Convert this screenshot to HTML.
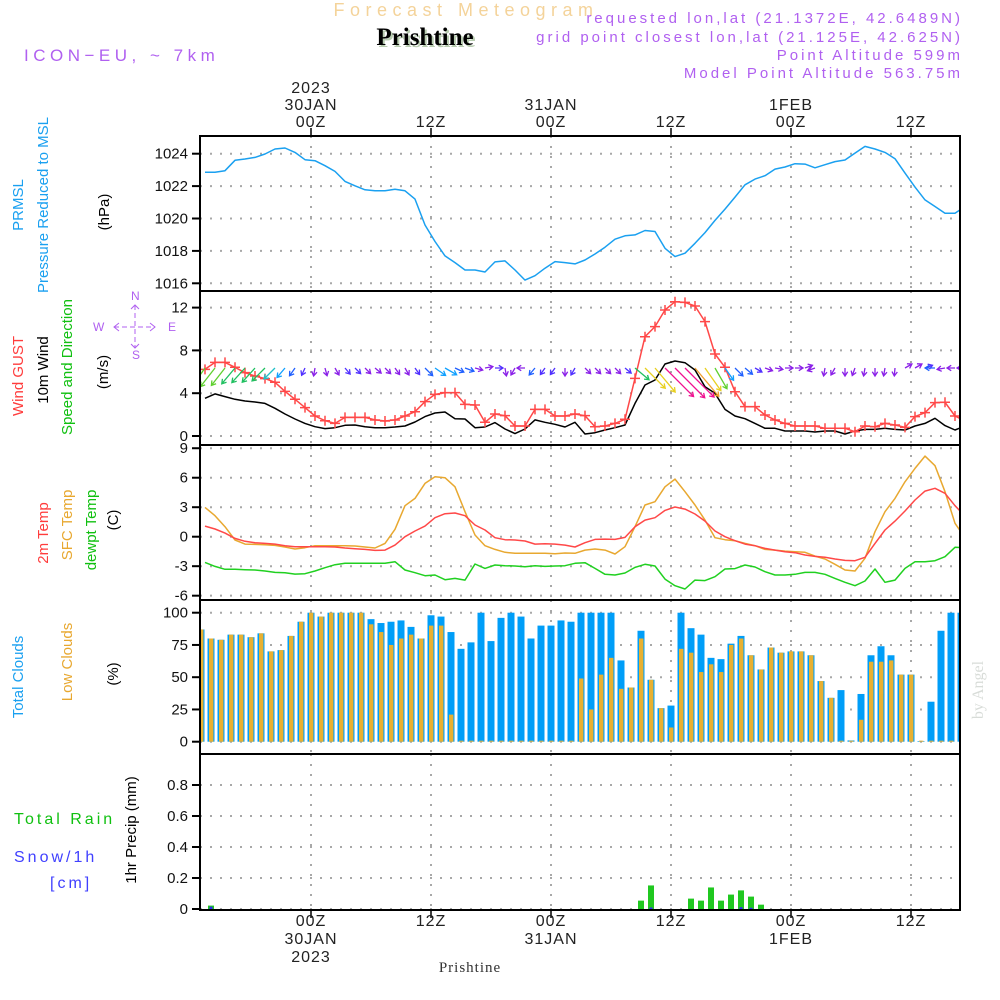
<!DOCTYPE html>
<html><head><meta charset="utf-8">
<style>
html,body{margin:0;padding:0;background:#fff;}
svg{display:block;font-family:"Liberation Sans",sans-serif;}
.nar{font-family:"Liberation Sans Narrow","Liberation Sans",sans-serif;}
.tk{font-size:15px;fill:#111;text-anchor:end;}
.tl{font-size:16px;fill:#222;text-anchor:middle;letter-spacing:1px;}
.pur{fill:#b060f0;font-size:15px;letter-spacing:3px;}
</style></head>
<body>
<svg id="chart" width="1000" height="1000" viewBox="0 0 1000 1000">
<defs><clipPath id="plotclip"><rect x="200" y="135" width="760" height="776"/></clipPath></defs>
<rect x="0" y="0" width="1000" height="1000" fill="#fff"/>
<text x="466" y="16" text-anchor="middle" font-size="18" fill="#f4d39a" letter-spacing="5.5">Forecast Meteogram</text>
<text x="427" y="47" text-anchor="middle" font-size="25" font-weight="bold" font-family="Liberation Serif, serif" fill="#b8ccb0">Prishtine</text>
<text x="425" y="45" text-anchor="middle" font-size="25" font-weight="bold" font-family="Liberation Serif, serif" fill="#000">Prishtine</text>
<text x="24" y="61" class="pur" font-size="17" style="font-size:17px;letter-spacing:4.5px">ICON−EU, ~ 7km</text>
<text x="963" y="23" text-anchor="end" class="pur">requested lon,lat (21.1372E, 42.6489N)</text>
<text x="963" y="42" text-anchor="end" class="pur">grid point closest lon,lat (21.125E, 42.625N)</text>
<text x="963" y="60" text-anchor="end" class="pur">Point Altitude 599m</text>
<text x="963" y="78" text-anchor="end" class="pur">Model Point Altitude 563.75m</text>

<g class="nar" font-size="15">
<text transform="translate(23,205) rotate(-90)" text-anchor="middle" fill="#1aa0f0">PRMSL</text>
<text transform="translate(48,205) rotate(-90)" text-anchor="middle" fill="#1aa0f0">Pressure Reduced to MSL</text>
<text transform="translate(109,212) rotate(-90)" text-anchor="middle" fill="#000">(hPa)</text>
<text transform="translate(23,376) rotate(-90)" text-anchor="middle" fill="#ff3c3c">Wind GUST</text>
<text transform="translate(48,370) rotate(-90)" text-anchor="middle" fill="#000">10m Wind</text>
<text transform="translate(72,367) rotate(-90)" text-anchor="middle" fill="#10c010">Speed and Direction</text>
<text transform="translate(108,372) rotate(-90)" text-anchor="middle" fill="#000">(m/s)</text>
<text transform="translate(48,533) rotate(-90)" text-anchor="middle" fill="#ff3c3c">2m Temp</text>
<text transform="translate(72,525) rotate(-90)" text-anchor="middle" fill="#e8a830">SFC Temp</text>
<text transform="translate(96,530) rotate(-90)" text-anchor="middle" fill="#10c010">dewpt Temp</text>
<text transform="translate(118,520) rotate(-90)" text-anchor="middle" fill="#000">(C)</text>
<text transform="translate(23,677) rotate(-90)" text-anchor="middle" fill="#1aa0f0">Total Clouds</text>
<text transform="translate(72,662) rotate(-90)" text-anchor="middle" fill="#e8a830">Low Clouds</text>
<text transform="translate(118,674) rotate(-90)" text-anchor="middle" fill="#000">(%)</text>
<text transform="translate(136,830) rotate(-90)" text-anchor="middle" fill="#000">1hr Precip (mm)</text>
</g>
<text x="14" y="824" font-size="16" fill="#10c010" letter-spacing="3">Total  Rain</text>
<text x="14" y="862" font-size="16" fill="#4040ff" letter-spacing="3">Snow/1h</text>
<text x="50" y="888" font-size="16" fill="#4040ff" letter-spacing="3">[cm]</text>
<text transform="translate(983,690) rotate(-90)" text-anchor="middle" font-family="Liberation Serif, serif" font-size="16" fill="#d8dcd8">by Angel</text>
<text x="470" y="972" text-anchor="middle" font-family="Liberation Serif, serif" font-size="15" fill="#333" letter-spacing="1">Prishtine</text>

<g fill="#b060f0" stroke="#b060f0" font-size="12">
<text x="131" y="300" stroke="none">N</text><text x="93" y="331" stroke="none">W</text>
<text x="168" y="331" stroke="none">E</text><text x="132" y="359" stroke="none">S</text>
<line x1="114" y1="327" x2="155" y2="327" stroke-width="1" stroke-dasharray="5,3"/>
<line x1="135" y1="305" x2="135" y2="348" stroke-width="1" stroke-dasharray="5,3"/>
<path d="M119,323 L114,327 L119,331 M150,323 L155,327 L150,331 M131,309 L135,305 L139,309 M131,344 L135,348 L139,344" fill="none" stroke-width="1"/>
</g>
<g id="axes"></g>
<g id="marks" clip-path="url(#plotclip)"></g>
<g id="frames"></g>
</svg>
<script>
// ---------- DATA ----------
const lineStartHour = -10.6;
const pressure = [1022.85,1022.85,1022.95,1023.59,1023.67,1023.77,1023.98,1024.29,1024.35,1024.08,1023.63,1023.57,1023.26,1022.91,1022.29,1022.02,1021.77,1021.71,1021.71,1021.81,1021.71,1021.2,1019.6,1018.58,1017.69,1017.28,1016.82,1016.82,1016.7,1017.32,1017.38,1016.82,1016.2,1016.47,1016.93,1017.34,1017.28,1017.2,1017.44,
1017.81,1018.23,1018.72,1018.93,1018.99,1019.26,1019.2,1018.16,1017.65,1017.86,1018.47,1019.13,1019.88,1020.58,1021.32,1022.08,1022.43,1022.64,1023.05,1023.18,1023.38,1023.36,1023.13,1023.32,1023.51,1023.61,1024.04,1024.45,1024.29,1024.08,1023.69,1022.8,1021.94,1021.15,1020.74,1020.33,1020.33,1020.74];
const wind10m = [3.52,3.93,3.68,3.43,3.27,3.18,3.05,2.59,2.06,1.59,1.18,0.87,0.69,0.78,1.0,1.03,0.87,0.78,0.78,0.84,0.93,1.31,1.81,2.15,2.24,1.62,1.59,0.78,0.84,1.25,0.65,0.22,0.65,1.5,1.28,1.09,0.84,1.28,0.19,
0.31,0.56,0.78,1.03,3.05,4.77,5.23,6.73,7.01,6.85,6.17,4.61,3.99,2.49,1.87,1.62,1.18,0.72,0.72,0.47,0.47,0.47,0.37,0.47,0.47,0.19,0.47,0.62,0.62,0.72,0.62,0.56,0.93,1.18,1.65,0.97,0.56,0.93];
const windGust = [6.23,6.88,6.88,6.42,5.92,5.61,5.36,5.02,4.17,3.43,2.65,1.87,1.43,1.18,1.74,1.74,1.74,1.5,1.4,1.5,1.87,2.27,3.21,3.89,4.05,4.05,2.96,2.9,1.28,2.06,1.9,0.93,0.93,2.49,2.49,1.87,1.87,2.06,1.9,
0.87,0.93,1.18,1.56,5.39,9.28,10.22,11.78,12.55,12.49,12.15,10.69,7.66,6.42,4.14,2.74,2.74,1.96,1.5,1.18,0.93,0.93,0.93,0.72,0.72,0.72,0.4,0.93,0.87,1.18,1.03,0.81,1.81,2.18,3.12,3.15,1.87,1.4];
// direction the wind blows toward, degrees clockwise from east (screen)
const windToDir = [125,128,128,130,132,132,135,135,130,125,115,100,75,60,50,45,45,40,45,55,60,55,45,35,30,25,20,15,-10,0,80,120,180,130,125,125,90,120,45,
45,45,45,40,40,45,50,45,45,45,50,55,60,55,45,40,30,20,10,0,0,-20,160,100,120,90,110,100,90,100,95,-30,-30,-20,180,170,180,180];
const tempSfc = [2.98,2.14,1.02,-0.34,-0.75,-0.78,-0.81,-0.88,-1.05,-1.25,-1.12,-0.92,-0.92,-0.92,-0.92,-0.95,-1.05,-1.15,-0.68,0.75,3.15,3.9,5.42,6.1,6.0,5.08,2.54,0.17,-0.92,-1.29,-1.59,-1.69,-1.69,-1.69,-1.69,-1.73,-1.66,-1.69,-1.36,
-1.25,-1.36,-1.76,-1.02,1.02,3.22,3.56,5.08,5.86,4.58,3.22,1.69,-0.1,-0.31,-0.41,-0.68,-0.92,-1.29,-1.36,-1.46,-1.53,-1.59,-1.97,-2.27,-2.81,-3.39,-3.49,-2.2,0.51,2.54,3.9,5.59,6.95,8.2,7.22,4.58,1.36,-0.1];
const temp2m = [1.08,0.78,0.37,-0.17,-0.47,-0.61,-0.68,-0.75,-0.92,-1.02,-1.02,-1.02,-1.02,-1.05,-1.15,-1.22,-1.29,-1.39,-1.36,-0.85,0,0.58,1.08,1.93,2.34,2.41,2.14,1.19,0.68,-0.1,-0.31,-0.34,-0.44,-0.75,-0.71,-0.75,-0.85,-1.05,-0.61,
-0.27,-0.24,-0.27,-0.07,1.02,1.69,1.93,2.68,3.02,2.81,2.31,1.59,0.58,0,-0.41,-0.75,-0.92,-1.19,-1.36,-1.53,-1.63,-1.86,-2.0,-2.1,-2.27,-2.41,-2.44,-2.1,-0.68,0.68,1.59,2.61,3.73,4.64,4.92,4.41,3.15,2.1];
const dewpt = [-2.61,-3.02,-3.32,-3.32,-3.36,-3.39,-3.49,-3.63,-3.66,-3.8,-3.76,-3.49,-3.15,-2.85,-2.71,-2.71,-2.71,-2.71,-2.71,-2.54,-3.39,-3.66,-3.97,-3.9,-4.37,-4.24,-4.41,-2.78,-3.22,-2.88,-2.95,-2.98,-3.05,-2.95,-3.02,-2.98,-2.95,-2.71,-2.64,
-3.22,-3.83,-3.9,-3.69,-3.12,-2.81,-2.98,-4.31,-4.98,-5.32,-4.41,-4.47,-4.07,-3.29,-3.25,-2.88,-3.08,-3.56,-3.9,-3.9,-3.83,-3.63,-3.63,-3.83,-4.24,-4.64,-4.98,-4.51,-3.29,-4.64,-4.41,-3.22,-2.54,-2.54,-2.44,-2.03,-1.08,-1.12];
const barStartHour = -11;
const totalClouds = [87,80,79,83,83,81,84,70,71,82,93,100,97,100,100,100,100,95,92,93,94,89,80,98,97,85,72,77,100,78,96,100,97,80,90,90,94,93,100,100,100,100,63,42,86,48,26,28,100,88,83,65,64,76,82,67,56,73,69,70,70,67,47,34,40,1,37,67,74,67,52,52,0.5,31,86,100,100];
const lowClouds = [87,80,79,83,83,81,84,70,71,82,93,100,97,100,100,100,100,91,85,75,80,83,80,90,90,21,0,0,0,0,0,0,0,0,0,0,0,0,49,25,52,65,41,42,80,48,26,11,72,69,54,60,54,75,80,67,56,73,69,70,70,67,47,34,0,0,17,62,62,63,52,52,0,0,0,0,0];
const rain = [0,0.022,0,0,0,0,0,0,0,0,0,0,0,0,0,0,0,0,0,0,0,0,0,0,0,0,0,0,0,0,0,0,0,0,0,0,0,0,0,0,0,0,0,0,0.054,0.152,0,0,0,0.067,0.054,0.139,0.054,0.093,0.12,0.08,0.028,0,0,0,0,0,0,0,0,0,0,0,0,0,0,0,0,0,0,0,0];
const snow = [0,0.015,0,0,0,0,0,0,0,0,0,0,0,0,0,0,0,0,0,0,0,0,0,0,0,0,0,0,0,0,0,0,0,0,0,0,0,0,0,0,0,0,0,0,0,0.01,0,0,0,0,0,0,0,0,0.012,0.008,0,0,0,0,0,0,0,0,0,0,0,0,0,0,0,0,0,0,0,0,0];
const pressTicks = [1016,1018,1020,1022,1024];
const windTicks = [0,4,8,12];
const tempTicks = [-6,-3,0,3,6,9];
const cloudTicks = [0,25,50,75,100];
const precipTicks = [0,0.2,0.4,0.6,0.8];
const timeTicks = [0,12,24,36,48,60];
const topLabels = [["2023","30JAN","00Z"],["","","12Z"],["","31JAN","00Z"],["","","12Z"],["","1FEB","00Z"],["","","12Z"]];
const bottomLabels = [["00Z","30JAN","2023"],["12Z","",""],["00Z","31JAN",""],["12Z","",""],["00Z","1FEB",""],["12Z","",""]];

// ---------- SCALES ----------
const X0 = 200, X1 = 960;
const xH = h => 311 + 10 * h;
const yP = v => 283.3 - (v - 1016) * 16.2;
const yW = v => 436 - v * 10.7;
const yT = v => 536.7 - v * 9.83;
const yC = v => 741.7 - v * 1.29;
const yR = v => 909 - v * 155;
const panels = [[136,291],[291,445],[445,600],[600,754],[754,910]];

const NS = "http://www.w3.org/2000/svg";
function mk(parent, tag, attrs){const e=document.createElementNS(NS,tag);for(const k in attrs)e.setAttribute(k,attrs[k]);parent.appendChild(e);return e;}
const axes = document.getElementById('axes');
const marks = document.getElementById('marks');
const frames = document.getElementById('frames');

function yAxis(ticks, fy, name, fmt){
  ticks.forEach(t=>{
    const y=fy(t);
    const g=mk(axes,'line',{x1:X0,x2:X1,y1:y,y2:y,stroke:'#a8a8a8','stroke-width':2,'stroke-dasharray':'2,8'});
    
    
    const tk=mk(axes,'line',{x1:X0-8,x2:X0,y1:y,y2:y,stroke:'#000','stroke-width':2});
    
    
    const lb=mk(axes,'text',{x:X0-12,y:y+5,class:'tk'});
    lb.textContent=fmt?fmt(t):String(t);
    
    
  });
}
yAxis(pressTicks,yP,'pressure-axis');
yAxis(windTicks,yW,'wind-axis');
yAxis(tempTicks,yT,'temp-axis');
yAxis(cloudTicks,yC,'cloud-axis');
yAxis(precipTicks,yR,'precip-axis',t=>t===0?'0':t.toFixed(1));

timeTicks.forEach((h,i)=>{
  const x=xH(h);
  panels.forEach(p=>{
    const v=mk(axes,'line',{x1:x,x2:x,y1:p[0],y2:p[1],stroke:'#a8a8a8','stroke-width':2,'stroke-dasharray':'2,8'});
    
    
  });
  const t1=mk(axes,'line',{x1:x,x2:x,y1:128,y2:136,stroke:'#000','stroke-width':1.5});
  
  
  const t2=mk(axes,'line',{x1:x,x2:x,y1:910,y2:918,stroke:'#000','stroke-width':1.5});
  
  
  topLabels[i].forEach((s,j)=>{ if(!s) return;
    const t=mk(axes,'text',{x:x,y:93+j*17,class:'tl'}); t.textContent=s;
    
    
  });
  bottomLabels[i].forEach((s,j)=>{ if(!s) return;
    const t=mk(axes,'text',{x:x,y:926+j*18,class:'tl'}); t.textContent=s;
    
    
  });
});

function line(arr, fy, color, name, w){
  const pts=arr.map((v,i)=>xH(lineStartHour+i).toFixed(1)+','+fy(v).toFixed(1)).join(' ');
  const l=mk(marks,'polyline',{points:pts,fill:'none',stroke:color,'stroke-width':w||1.5,'stroke-linejoin':'round'});
  
  
}
totalClouds.forEach((v,i)=>{
  const x=xH(barStartHour+i);
  const b=mk(marks,'rect',{x:x-3.5,y:yC(v),width:7,height:Math.max(0,yC(0)-yC(v)),fill:'#009ef8'});
  
  
  const lv=lowClouds[i];
  const o=mk(marks,'rect',{x:x-2,y:yC(lv)-(lv>0?0:1),width:4.4,height:Math.max(1,yC(0)-yC(lv)),fill:'#e8b030'});
  
  
});
rain.forEach((v,i)=>{
  const x=xH(barStartHour+i);
  if(v>0){
    const b=mk(marks,'rect',{x:x-3,y:yR(v),width:6,height:yR(0)-yR(v),fill:'#20c820'});
    
    
  }
  const s=snow[i];
  if(s>0){
    const b2=mk(marks,'rect',{x:x-1.5,y:yR(s),width:3,height:yR(0)-yR(s),fill:'#3030f0'});
    
    
  }
});
line(pressure,yP,'#1aa0f0','pressure-line');
line(wind10m,yW,'#000','wind-10m-line');
line(windGust,yW,'#ff4848','wind-gust-line');
windGust.forEach((v,i)=>{
  const x=xH(lineStartHour+i), y=yW(v);
  const p=mk(marks,'path',{d:`M${x-5},${y}H${x+5}M${x},${y-5}V${y+5}`,stroke:'#ff4848','stroke-width':1.5,fill:'none'});
  
  
});
line(tempSfc,yT,'#e8a830','sfc-temp-line');
line(temp2m,yT,'#ff4848','temp-2m-line');
line(dewpt,yT,'#20d020','dewpt-line');

function windColor(s){
  if(s<1) return '#8a20e8';
  if(s<1.5) return '#5030ff';
  if(s<2) return '#2060ff';
  if(s<2.5) return '#10a0ff';
  if(s<3) return '#20c0c8';
  if(s<3.5) return '#20c060';
  if(s<4.5) return '#60d030';
  if(s<5.5) return '#e8d020';
  if(s<6.5) return '#f0a030';
  return '#f01090';
}
wind10m.forEach((s,i)=>{
  const x=xH(lineStartHour+i), y=368;
  const a=windToDir[i]*Math.PI/180, L=Math.max(8,6*s);
  const x2=x+L*Math.cos(a), y2=y+L*Math.sin(a);
  const h=5, a1=a+Math.PI*0.82, a2=a-Math.PI*0.82;
  const c=windColor(s);
  const p=mk(marks,'path',{d:`M${x},${y}L${x2},${y2}M${x2+h*Math.cos(a1)},${y2+h*Math.sin(a1)}L${x2},${y2}L${x2+h*Math.cos(a2)},${y2+h*Math.sin(a2)}`,stroke:c,'stroke-width':1.3,fill:'none'});
  
  
});

panels.forEach((p,i)=>{
  const r=mk(frames,'rect',{x:X0,y:p[0],width:X1-X0,height:p[1]-p[0],fill:'none',stroke:'#000','stroke-width':2});
  
  
});
</script>
</body></html>
